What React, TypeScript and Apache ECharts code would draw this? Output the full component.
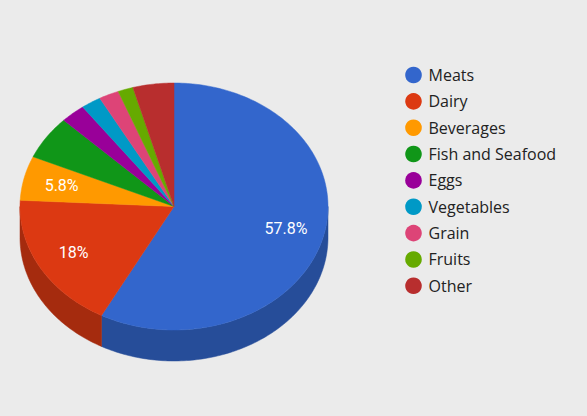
import React, { useEffect, useRef } from 'react';
import * as echarts from 'echarts';

const categories = ['Meats', 'Dairy', 'Beverages', 'Fish and Seafood', 'Eggs', 'Vegetables', 'Grain', 'Fruits', 'Other'];
const values = [57.8, 18, 5.8, 5.7, 2.6, 2.1, 2.1, 1.6, 4.3];
const colors = ['#3366cc', '#dc3912', '#ff9900', '#109618', '#990099', '#0099c6', '#dd4477', '#66aa00', '#b82e2e'];

function darken(hex: string, f: number): string {
  const n = parseInt(hex.slice(1), 16);
  const r = Math.round(((n >> 16) & 255) * f);
  const g = Math.round(((n >> 8) & 255) * f);
  const b = Math.round((n & 255) * f);
  return '#' + [r, g, b].map((v) => v.toString(16).padStart(2, '0')).join('');
}

export default function App() {
  const ref = useRef<HTMLDivElement | null>(null);

  useEffect(() => {
    if (!ref.current) return;
    const chart = echarts.init(ref.current, null, { renderer: 'svg' });
    const total = values.reduce((a, b) => a + b, 0);
    const starts: number[] = [];
    let acc = 0;
    values.forEach((v) => {
      starts.push(acc);
      acc += v;
    });

    const CX = 174, CY = 206.5, RX = 154, RY = 123.5, DEPTH = 31, LABEL_R = 0.75;
    const pt = (deg: number, dy = 0): number[] => {
      const r = (deg * Math.PI) / 180;
      return [CX + RX * Math.sin(r), CY - RY * Math.cos(r) + dy];
    };
    const arcPts = (a0: number, a1: number, dy: number): number[][] => {
      const n = Math.max(2, Math.ceil(Math.abs(a1 - a0)));
      const out: number[][] = [];
      for (let i = 0; i <= n; i++) out.push(pt(a0 + ((a1 - a0) * i) / n, dy));
      return out;
    };
    const angles = (i: number) => [
      (starts[i] / total) * 360,
      ((starts[i] + values[i]) / total) * 360,
    ];
    const fmt = (v: number) => String(Number(((v / total) * 100).toFixed(1))) + '%';

    const renderSide = (params: any) => {
      const i = params.dataIndex;
      const [a0, a1] = angles(i);
      const s = Math.max(a0, 90);
      const e = Math.min(a1, 270);
      if (e <= s) return { type: 'group', children: [] };
      const c = darken(colors[i], 0.75);
      return {
        type: 'polygon',
        shape: { points: [...arcPts(s, e, 0), ...arcPts(e, s, DEPTH)] },
        style: { fill: c, stroke: c, lineWidth: 0.5 },
      };
    };

    const renderTop = (params: any) => {
      const i = params.dataIndex;
      const [a0, a1] = angles(i);
      const children: any[] = [
        {
          type: 'polygon',
          shape: { points: [[CX, CY], ...arcPts(a0, a1, 0)] },
          style: { fill: colors[i], stroke: colors[i], lineWidth: 0.5 },
        },
      ];
      if (values[i] >= 5.8) {
        const m = (((a0 + a1) / 2) * Math.PI) / 180;
        children.push({
          type: 'text',
          style: {
            text: fmt(values[i]),
            x: CX + RX * LABEL_R * Math.sin(m),
            y: CY - RY * LABEL_R * Math.cos(m),
            fill: '#ffffff',
            fontSize: 16,
            fontFamily: 'Roboto',
            align: 'center',
            verticalAlign: 'middle',
          },
        });
      }
      return { type: 'group', children };
    };

    const seriesData = categories.map((name, i) => ({ name, value: values[i] }));

    const legendItems: any[] = [];
    categories.forEach((name, i) => {
      const y = 75 + i * 26.35;
      legendItems.push({
        type: 'circle',
        shape: { cx: 413.5, cy: y, r: 8.3 },
        style: { fill: colors[i] },
      });
      legendItems.push({
        type: 'text',
        style: {
          text: name,
          x: 428.5,
          y: y,
          fill: '#222222',
          fontSize: 16,
          fontFamily: 'Open Sans',
          verticalAlign: 'middle',
        },
      });
    });

    chart.setOption({
      animation: false,
      backgroundColor: '#ebebeb',
      series: [
        {
          type: 'custom',
          coordinateSystem: 'none',
          renderItem: renderSide,
          data: seriesData,
          z: 1,
        },
        {
          type: 'custom',
          coordinateSystem: 'none',
          renderItem: renderTop,
          data: seriesData,
          z: 2,
        },
      ],
      graphic: legendItems,
    });

    return () => chart.dispose();
  }, []);

  return (
    <div
      ref={ref}
      style={{ position: 'fixed', left: 0, top: 0, width: 587, height: 416 }}
    />
  );
}
